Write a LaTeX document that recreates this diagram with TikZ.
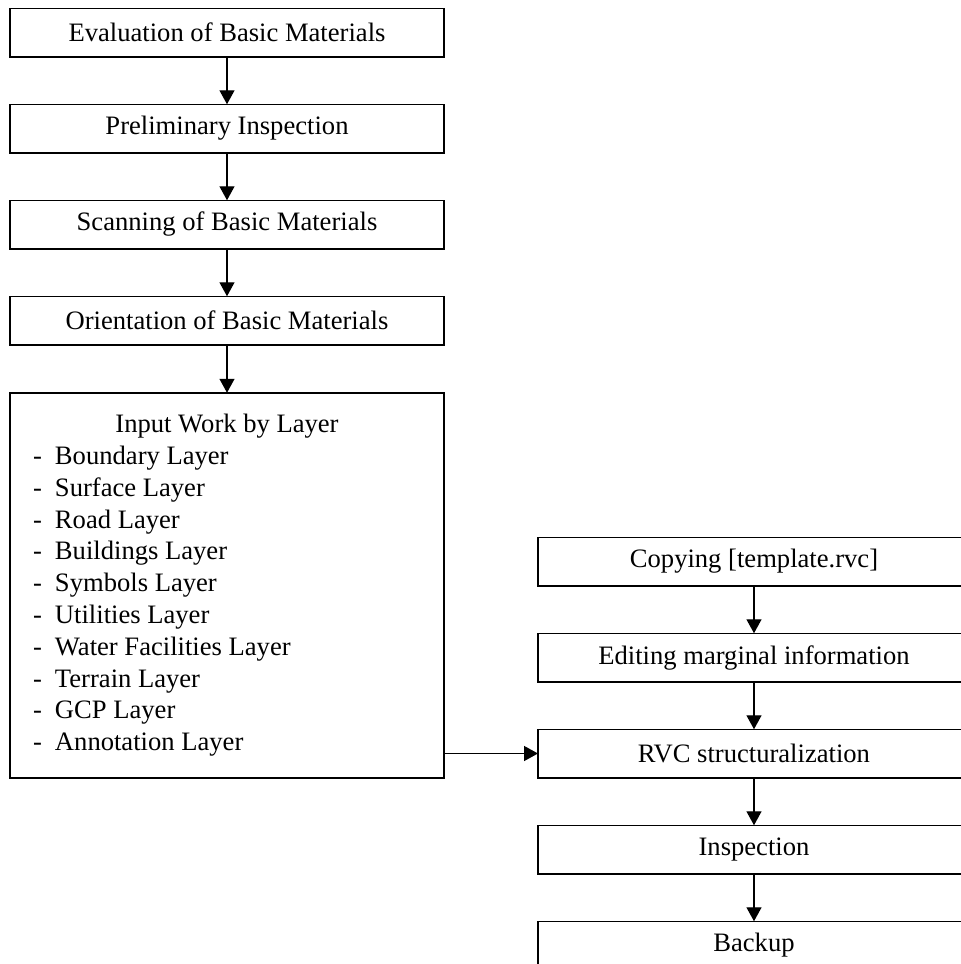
\documentclass[tikz,border=0pt]{standalone}
\usepackage{fontspec}
\setmainfont{Liberation Serif}
\usepackage{tikz}
\usetikzlibrary{arrows.meta,positioning}
\tikzset{
  flowbox/.style={draw=black, line width=1.5pt, outer sep=0pt, inner sep=2pt, align=center,
    minimum height=48.5pt, font=\fontsize{26.6}{31.8}\selectfont},
  leftbox/.style={flowbox, minimum width=434pt},
  rightbox/.style={flowbox, minimum width=432pt},
  layerbox/.style={flowbox, minimum width=434pt, minimum height=385pt, inner xsep=23pt,
    text width=388pt, align=flush left},
  flowarrow/.style={-{Triangle[length=14pt, width=15pt]}, line width=1.4pt}
}
\newcommand{\layeritem}[1]{\makebox[22pt][l]{-}#1}

\begin{document}
\begin{tikzpicture}[x=1pt, y=-1pt, node distance=47.5pt]
    \useasboundingbox (0,0) rectangle (961,964);
    \clip (0,0) rectangle (961,964);

    % left column
    \node[leftbox] (evaluation) at (227,32.5) {Evaluation of Basic Materials};
    \node[leftbox, below=of evaluation] (preliminary) {Preliminary Inspection};
    \node[leftbox, below=of preliminary] (scanning) {Scanning of Basic Materials};
    \node[leftbox, below=of scanning] (orientation) {Orientation of Basic Materials};
    \node[layerbox, below=48pt of orientation] (input)
      {\centering Input Work by Layer\par\raggedright
       \layeritem{Boundary Layer}\\
       \layeritem{Surface Layer}\\
       \layeritem{Road Layer}\\
       \layeritem{Buildings Layer}\\
       \layeritem{Symbols Layer}\\
       \layeritem{Utilities Layer}\\
       \layeritem{Water Facilities Layer}\\
       \layeritem{Terrain Layer}\\
       \layeritem{GCP Layer}\\
       \layeritem{Annotation Layer}};

    % right column
    \node[rightbox, right=94pt of input.south east, anchor=south west] (rvc) {RVC structuralization};
    \node[rightbox, above=of rvc] (editing) {Editing marginal information};
    \node[rightbox, above=of editing] (copying) {Copying [template.rvc]};
    \node[rightbox, below=of rvc] (inspection) {Inspection};
    \node[rightbox, below=of inspection] (backup) {Backup};

    \draw[flowarrow] (evaluation) -- (preliminary);
    \draw[flowarrow] (preliminary) -- (scanning);
    \draw[flowarrow] (scanning) -- (orientation);
    \draw[flowarrow] (orientation) -- (input);
    \draw[flowarrow] (input.east |- rvc.west) -- (rvc.west);
    \draw[flowarrow] (copying) -- (editing);
    \draw[flowarrow] (editing) -- (rvc);
    \draw[flowarrow] (rvc) -- (inspection);
    \draw[flowarrow] (inspection) -- (backup);
\end{tikzpicture}
\end{document}
